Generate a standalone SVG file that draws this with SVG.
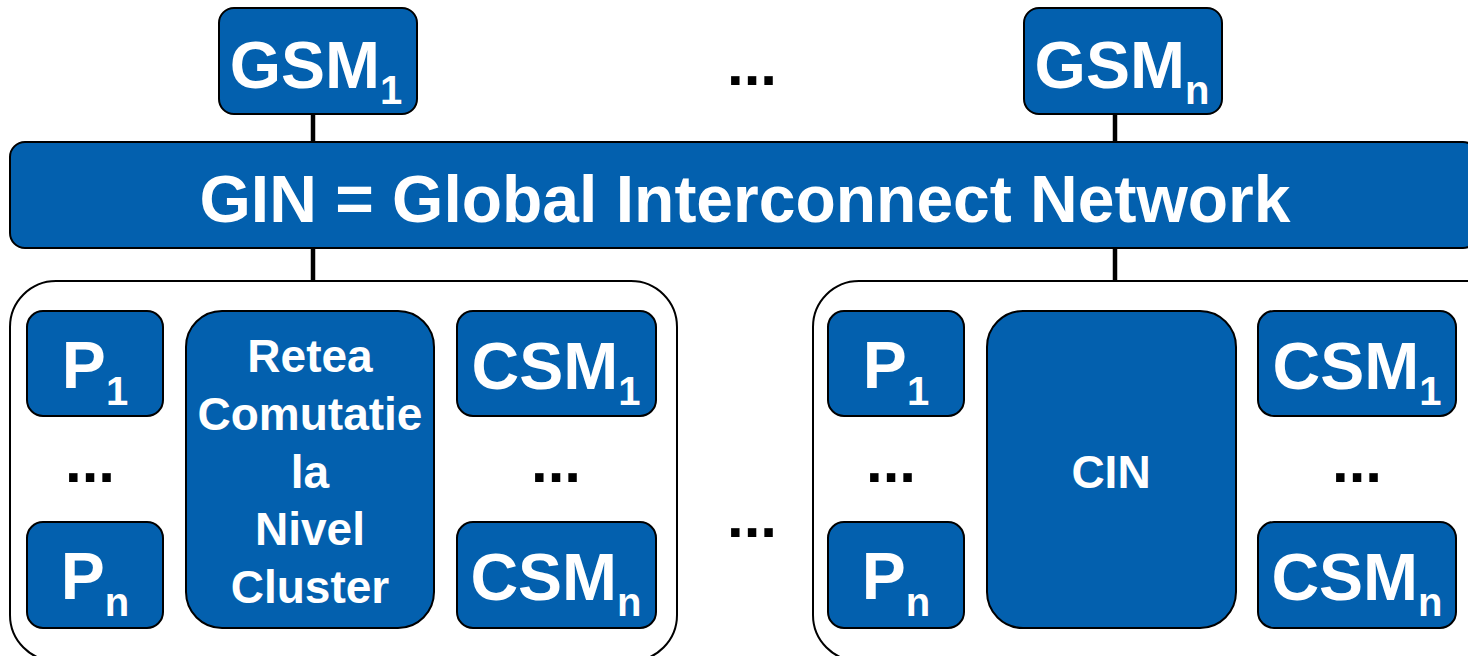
<svg xmlns="http://www.w3.org/2000/svg" width="1468" height="656" viewBox="0 0 1468 656">
<style>
.n{fill:#0360AE;stroke:#000;stroke-width:2}
.c{fill:#fff;stroke:#000;stroke-width:2}
.t{fill:#fff;font-family:"Liberation Sans",Arial,sans-serif;font-weight:bold;text-anchor:middle}
.big{font-size:66px}
.mid{font-size:46px}
.sub{font-size:40px}
.d{fill:#000;font-family:"Liberation Sans",Arial,sans-serif;font-weight:bold;font-size:60px;text-anchor:middle}
.l{stroke:#000;stroke-width:4.5;fill:none}
</style>
<rect width="1468" height="656" fill="#fff"/>
<g id="connectors">
<line class="l" x1="313" y1="114" x2="313" y2="142"/>
<line class="l" x1="1115" y1="114" x2="1115" y2="142"/>
<line class="l" x1="313" y1="248" x2="313" y2="281"/>
<line class="l" x1="1115" y1="248" x2="1115" y2="281"/>
<line class="l" x1="163" y1="356" x2="186" y2="356"/>
<line class="l" x1="163" y1="582" x2="186" y2="582"/>
<line class="l" x1="434" y1="356" x2="457" y2="356"/>
<line class="l" x1="434" y1="582" x2="457" y2="582"/>
<line class="l" x1="964" y1="356" x2="987" y2="356"/>
<line class="l" x1="964" y1="582" x2="987" y2="582"/>
<line class="l" x1="1236" y1="356" x2="1258" y2="356"/>
<line class="l" x1="1236" y1="582" x2="1258" y2="582"/>
</g>
<g id="cluster1"><rect class="c" x="10" y="281" width="667" height="380" rx="46"/></g>
<g id="cluster2"><rect class="c" x="813" y="281" width="700" height="380" rx="46"/></g>
<g id="gsm1"><rect class="n" x="219" y="8" width="198" height="106" rx="15"/><text class="t big" x="316" y="88">GSM<tspan class="sub" dy="16">1</tspan></text></g>
<g id="gsmn"><rect class="n" x="1024" y="8" width="198" height="106" rx="15"/><text class="t big" x="1122" y="88">GSM<tspan class="sub" dy="16">n</tspan></text></g>
<text class="d" x="752" y="85">...</text>
<g id="gin"><rect class="n" x="10" y="142" width="1468" height="106" rx="15"/><text class="t big" x="745" y="222">GIN = Global Interconnect Network</text></g>
<g id="c1p1"><rect class="n" x="27" y="311" width="136" height="105" rx="16"/><text class="t big" x="95" y="388">P<tspan class="sub" dy="17">1</tspan></text></g>
<g id="c1pn"><rect class="n" x="27" y="522" width="136" height="106" rx="16"/><text class="t big" x="95" y="599">P<tspan class="sub" dy="17">n</tspan></text></g>
<text class="d" x="90" y="482">...</text>
<g id="retea"><rect class="n" x="186" y="311" width="248" height="317" rx="36"/>
<text class="t mid" x="310" y="372">Retea</text>
<text class="t mid" x="310" y="430">Comutatie</text>
<text class="t mid" x="310" y="488">la</text>
<text class="t mid" x="310" y="545">Nivel</text>
<text class="t mid" x="310" y="603">Cluster</text></g>
<g id="c1csm1"><rect class="n" x="457" y="311" width="199" height="105" rx="16"/><text class="t big" x="556" y="389">CSM<tspan class="sub" dy="16">1</tspan></text></g>
<g id="c1csmn"><rect class="n" x="457" y="522" width="199" height="106" rx="16"/><text class="t big" x="556" y="600">CSM<tspan class="sub" dy="16">n</tspan></text></g>
<text class="d" x="556" y="482">...</text>
<text class="d" x="752" y="537">...</text>
<g id="c2p1"><rect class="n" x="828" y="311" width="136" height="105" rx="16"/><text class="t big" x="896" y="388">P<tspan class="sub" dy="17">1</tspan></text></g>
<g id="c2pn"><rect class="n" x="828" y="522" width="136" height="106" rx="16"/><text class="t big" x="896" y="599">P<tspan class="sub" dy="17">n</tspan></text></g>
<text class="d" x="891" y="482">...</text>
<g id="cin"><rect class="n" x="987" y="311" width="249" height="317" rx="36"/><text class="t mid" x="1111" y="488">CIN</text></g>
<g id="c2csm1"><rect class="n" x="1258" y="311" width="198" height="105" rx="16"/><text class="t big" x="1357" y="389">CSM<tspan class="sub" dy="16">1</tspan></text></g>
<g id="c2csmn"><rect class="n" x="1258" y="522" width="198" height="106" rx="16"/><text class="t big" x="1357" y="600">CSM<tspan class="sub" dy="16">n</tspan></text></g>
<text class="d" x="1357" y="482">...</text>
</svg>
